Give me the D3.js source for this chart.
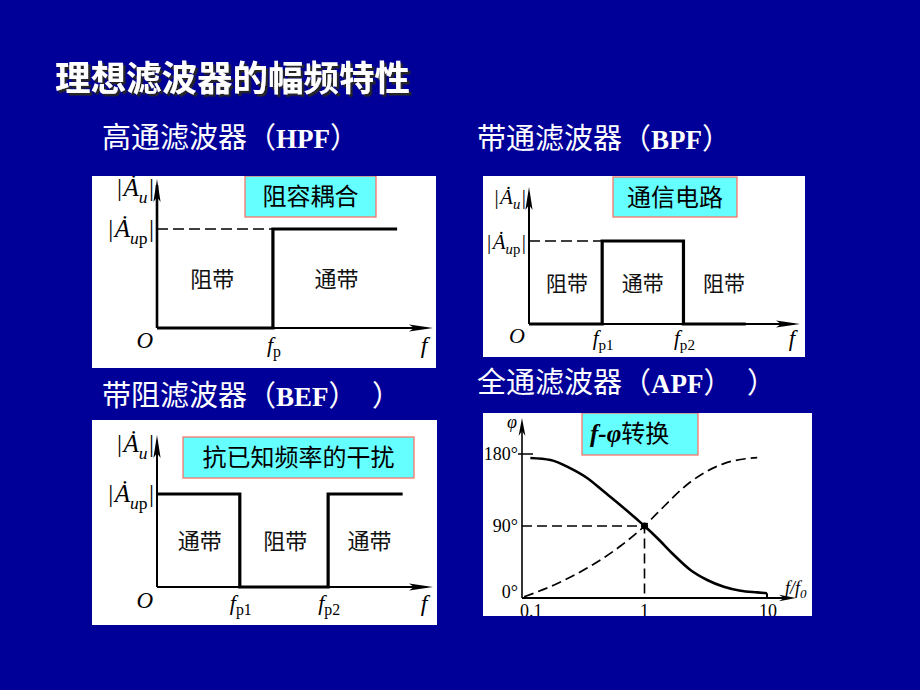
<!DOCTYPE html>
<html><head><meta charset="utf-8">
<script src="https://cdn.jsdelivr.net/npm/d3@7"></script>
<style>html,body{margin:0;padding:0;background:#000099;} svg{display:block}</style>
</head><body>
<svg id="c" width="920" height="690"></svg>
<script>
// ================= DATA =================
const slideTitle = "理想滤波器的幅频特性";
const hpfHeading = ["高通滤波器（", "HPF", "）"];
const bpfHeading = ["带通滤波器（", "BPF", "）"];
const befHeading = ["带阻滤波器（", "BEF", "）　）"];
const apfHeading = ["全通滤波器（", "APF", "）　）"];

// magnitude responses: frequency in % of axis length, gain relative to |Aup|
const hpfF = [0, 42, 42, 87];
const hpfA = [0, 0, 1, 1];
const hpfBands = ["阻带", "通带"];
const hpfBandF = [20, 65];
const hpfMarks = [42];
const hpfMarkSubs = ["p"];
const hpfTag = "阻容耦合";

const bpfF = [0, 27, 27, 57, 57, 80];
const bpfA = [0, 0, 1, 1, 0, 0];
const bpfBands = ["阻带", "通带", "阻带"];
const bpfBandF = [14, 42, 72];
const bpfMarks = [27, 57];
const bpfMarkSubs = ["p1", "p2"];
const bpfTag = "通信电路";

const befF = [0, 30, 30, 62, 62, 89];
const befA = [1, 1, 0, 0, 1, 1];
const befBands = ["通带", "阻带", "通带"];
const befBandF = [15.5, 46.5, 77];
const befMarks = [30, 62];
const befMarkSubs = ["p1", "p2"];
const befTag = "抗已知频率的干扰";

// all-pass phase response (f/f0, degrees)
const apfSolidF   = [0.117, 0.171, 0.249, 0.34, 0.466, 0.637, 0.872, 1, 1.27, 1.73, 2.37, 3.25, 4.44, 6.08, 8.32, 10];
const apfSolidPhi = [175, 172.5, 162, 150, 133, 116, 98, 90, 75, 54, 35, 22.5, 14, 9, 7, 6];
const apfDashF    = [0.104, 0.181, 0.34, 0.637, 1, 1.27, 2.37, 4.44, 8.32];
const apfDashPhi  = [1.5, 16, 37.5, 65, 90, 106, 145, 168, 175.5];
const apfXTicks = [0.1, 1, 10];
const apfXTickLabels = ["0.1", "1", "10"];
const apfYTicks = [180, 90, 0];
const apfYTickLabels = ["180°", "90°", "0°"];
const apfTagItalic = "f-φ";
const apfTag = "转换";

// ================= LAYOUT =================
const svg = d3.select("#c");
const CJK = "'Noto Sans CJK SC', sans-serif";
const SERIF = "'Liberation Serif', 'DejaVu Serif', serif";

const defs = svg.append("defs");
defs.append("filter").attr("id", "shadow").attr("x", "-5%").attr("y", "-20%").attr("width", "115%").attr("height", "150%")
  .append("feDropShadow").attr("dx", 2.5).attr("dy", 2.5).attr("stdDeviation", 0.3).attr("flood-color", "#262626").attr("flood-opacity", 1);

// slide title with shadow
svg.append("text").attr("x", 55).attr("y", 91)
  .attr("font-family", CJK).attr("font-weight", 700).attr("font-size", 35.5)
  .attr("fill", "#fff").attr("filter", "url(#shadow)").text(slideTitle);

function heading(parts, x, y) {
  const t = svg.append("text").attr("x", x).attr("y", y).attr("fill", "#fff").attr("font-size", 29);
  t.append("tspan").attr("font-family", CJK).text(parts[0]);
  t.append("tspan").attr("font-family", SERIF).attr("font-weight", 700).attr("font-size", 27).text(parts[1]);
  t.append("tspan").attr("font-family", CJK).text(parts[2]);
}
heading(hpfHeading, 102, 148);
heading(bpfHeading, 477, 149);
heading(befHeading, 102, 406);
heading(apfHeading, 477, 393);

let clipId = 0;
function panelBox(b) {
  const id = "clip" + (clipId++);
  defs.append("clipPath").attr("id", id).append("rect").attr("x", b[0]).attr("y", b[1]).attr("width", b[2]).attr("height", b[3]);
  svg.append("rect").attr("x", b[0]).attr("y", b[1]).attr("width", b[2]).attr("height", b[3]).attr("fill", "#fff");
  return svg.append("g").attr("clip-path", `url(#${id})`);
}

function arrowUp(g, x, y, L, w) {
  g.append("path").attr("d", `M${x},${y} L${x - w},${y + L} L${x},${y + L - 5} L${x + w},${y + L} Z`).attr("fill", "#000");
}
function arrowRight(g, x, y, L, w) {
  g.append("path").attr("d", `M${x},${y} L${x - L},${y - w} L${x - L + 5},${y} L${x - L},${y + w} Z`).attr("fill", "#000");
}
function tagBox(g, tb) {
  g.append("rect").attr("x", tb[0]).attr("y", tb[1]).attr("width", tb[2]).attr("height", tb[3])
    .attr("fill", "#66ffff").attr("stroke", "#ff6a5a").attr("stroke-width", 1.2);
}

function ampLabel(g, x, y, sub2, fs) {
  const t = g.append("text").attr("x", x).attr("y", y).attr("text-anchor", "end")
    .attr("font-family", SERIF).attr("font-size", fs).attr("fill", "#000");
  t.append("tspan").text("|");
  t.append("tspan").attr("font-style", "italic").attr("dx", 1.5).text("Ȧ");
  t.append("tspan").attr("font-style", "italic").attr("font-size", fs * 0.7).attr("dy", fs * 0.26).text("u");
  if (sub2) t.append("tspan").attr("font-size", fs * 0.7).text(sub2);
  t.append("tspan").attr("dy", -fs * 0.26).attr("dx", 1.5).text("|");
}

function magPanel(L, F, A, bands, bandF, marks, subs, tag) {
  const g = panelBox(L.box);
  const x = d3.scaleLinear().domain([0, 100]).range([L.ox, L.xEnd]);
  const y = d3.scaleLinear().domain([0, 1]).range([L.oy, L.aupY]);
  // axes
  g.append("line").attr("x1", L.ox).attr("x2", L.xEnd - 6).attr("y1", L.oy).attr("y2", L.oy)
    .attr("stroke", "#000").attr("stroke-width", L.axW);
  g.append("line").attr("x1", L.ox).attr("x2", L.ox).attr("y1", L.oy).attr("y2", L.topY + 6)
    .attr("stroke", "#000").attr("stroke-width", L.yAxW);
  arrowUp(g, L.ox, L.topY, 23, 3.6);
  arrowRight(g, L.xEnd, L.oy, 24, 3.4);
  // dashed |Aup| level up to where response reaches it
  const firstPass = A.indexOf(1);
  if (F[firstPass] > 0) {
    g.append("line").attr("x1", x(0)).attr("x2", x(F[firstPass])).attr("y1", y(1)).attr("y2", y(1))
      .attr("stroke", "#000").attr("stroke-width", 1.6).attr("stroke-dasharray", "11,5");
  }
  // response
  const line = d3.line().x((d, i) => x(F[i])).y((d, i) => y(A[i]));
  g.append("path").attr("d", line(F)).attr("fill", "none").attr("stroke", "#000")
    .attr("stroke-width", 3.2).attr("stroke-linejoin", "miter");
  // band labels
  bands.forEach((b, i) => {
    g.append("text").attr("x", x(bandF[i])).attr("y", y(0.5) + 8).attr("text-anchor", "middle")
      .attr("font-family", CJK).attr("font-size", L.bandFs).attr("fill", "#111").text(b);
  });
  // frequency marks
  marks.forEach((m, i) => {
    const t = g.append("text").attr("x", x(m) + 1).attr("y", L.oy + L.fDy).attr("text-anchor", "middle")
      .attr("font-family", SERIF).attr("font-size", L.labFs).attr("fill", "#000");
    t.append("tspan").attr("font-style", "italic").text("f");
    t.append("tspan").attr("font-size", L.labFs * 0.72).attr("dy", 5).text(subs[i]);
  });
  g.append("text").attr("x", L.ox - 4).attr("y", L.oy + L.oDy).attr("text-anchor", "end")
    .attr("font-family", SERIF).attr("font-style", "italic").attr("font-size", L.labFs + 1).attr("fill", "#000").text("O");
  g.append("text").attr("x", L.fX).attr("y", L.oy + L.fDy + 1).attr("text-anchor", "middle")
    .attr("font-family", SERIF).attr("font-style", "italic").attr("font-size", L.labFs + 2).attr("fill", "#000").text("f");
  ampLabel(g, L.ox - 3, L.topY + 17, null, L.ampFs);
  ampLabel(g, L.ox - 3, y(1) + 8, "p", L.ampFs);
  // tag
  tagBox(g, L.tag);
  g.append("text").attr("x", L.tag[0] + L.tag[2] / 2).attr("y", L.tag[1] + L.tag[3] / 2 + 8.5).attr("text-anchor", "middle")
    .attr("font-family", CJK).attr("font-size", L.tagFs).attr("fill", "#000").text(tag);
}

magPanel({box: [92, 176, 344, 192], ox: 157, oy: 328, xEnd: 433, aupY: 229, topY: 179, axW: 1.8, yAxW: 2.6,
  fX: 424, fDy: 24, oDy: 20, labFs: 22, ampFs: 25, bandFs: 22, tag: [245, 176, 131, 41], tagFs: 24},
  hpfF, hpfA, hpfBands, hpfBandF, hpfMarks, hpfMarkSubs, hpfTag);

magPanel({box: [483, 176, 322, 181], ox: 529, oy: 324, xEnd: 800, aupY: 241, topY: 187, axW: 1.8, yAxW: 2,
  fX: 792, fDy: 21, oDy: 19, labFs: 21, ampFs: 21, bandFs: 21, tag: [613, 177, 124, 40], tagFs: 24},
  bpfF, bpfA, bpfBands, bpfBandF, bpfMarks, bpfMarkSubs, bpfTag);

magPanel({box: [92, 420, 345, 205], ox: 157, oy: 587, xEnd: 433, aupY: 494, topY: 435, axW: 1.8, yAxW: 2,
  fX: 424, fDy: 23, oDy: 21, labFs: 22, ampFs: 25, bandFs: 22, tag: [183, 437, 231, 41], tagFs: 24},
  befF, befA, befBands, befBandF, befMarks, befMarkSubs, befTag);

// ---------- all-pass phase panel ----------
(function () {
  const g = panelBox([483, 413, 329, 203]);
  const x = d3.scaleLog().domain([0.1, 10]).range([522, 767]);
  const y = d3.scaleLinear().domain([0, 180]).range([598, 454]);
  const ox = x(0.1), oy = y(0);
  g.append("line").attr("x1", ox).attr("x2", 790).attr("y1", oy).attr("y2", oy).attr("stroke", "#000").attr("stroke-width", 2);
  g.append("line").attr("x1", ox).attr("x2", ox).attr("y1", oy).attr("y2", 424).attr("stroke", "#000").attr("stroke-width", 1.6);
  arrowUp(g, ox, 418, 18, 3.4);
  arrowRight(g, 796, oy, 17, 3.2);
  // guides
  g.append("line").attr("x1", ox - 4).attr("x2", ox + 11).attr("y1", y(180)).attr("y2", y(180)).attr("stroke", "#000").attr("stroke-width", 1.5);
  g.append("path").attr("d", `M${ox},${y(90)} H${x(1)} V${oy}`).attr("fill", "none").attr("stroke", "#000")
    .attr("stroke-width", 1.6).attr("stroke-dasharray", "10,5");
  const ln = (F) => d3.line().curve(d3.curveMonotoneX).x((d, i) => x(F[i])).y(d => y(d));
  g.append("path").attr("d", ln(apfDashF)(apfDashPhi)).attr("fill", "none").attr("stroke", "#000")
    .attr("stroke-width", 1.7).attr("stroke-dasharray", "10,5");
  g.append("path").attr("d", ln(apfSolidF)(apfSolidPhi)).attr("fill", "none").attr("stroke", "#000").attr("stroke-width", 2.6);
  const last = apfSolidF.length - 1;
  g.append("line").attr("x1", x(apfSolidF[last])).attr("x2", x(apfSolidF[last]))
    .attr("y1", y(apfSolidPhi[last])).attr("y2", oy).attr("stroke", "#000").attr("stroke-width", 2);
  g.append("circle").attr("cx", x(1)).attr("cy", y(90)).attr("r", 3.6).attr("fill", "#000");
  // tick labels
  apfXTicks.forEach((v, i) => {
    g.append("text").attr("x", i === 0 ? x(v) - 2 : x(v) + (i === 2 ? 1 : 0)).attr("y", 617)
      .attr("text-anchor", i === 0 ? "start" : "middle")
      .attr("font-family", SERIF).attr("font-size", 18).attr("fill", "#000").text(apfXTickLabels[i]);
  });
  apfYTicks.forEach((v, i) => {
    g.append("text").attr("x", ox - 4).attr("y", v > 0 ? y(v) + 6 : y(v))
      .attr("text-anchor", "end").attr("font-family", SERIF).attr("font-size", 18).attr("fill", "#000").text(apfYTickLabels[i]);
  });
  g.append("text").attr("x", ox - 10).attr("y", 428).attr("text-anchor", "middle").attr("font-family", SERIF)
    .attr("font-style", "italic").attr("font-size", 18).attr("fill", "#000").text("φ");
  const ff = g.append("text").attr("x", 785).attr("y", 594).attr("font-family", SERIF).attr("font-style", "italic")
    .attr("font-size", 18).attr("fill", "#000");
  ff.append("tspan").text("f/f");
  ff.append("tspan").attr("font-size", 13).attr("dy", 4).text("0");
  // tag
  tagBox(g, [582, 413, 116, 42]);
  const t = g.append("text").attr("x", 590).attr("y", 442).attr("fill", "#000");
  t.append("tspan").attr("font-family", SERIF).attr("font-style", "italic").attr("font-weight", 700).attr("font-size", 25).text(apfTagItalic);
  t.append("tspan").attr("font-family", CJK).attr("font-size", 24).text(apfTag);
})();
</script>
</body></html>
